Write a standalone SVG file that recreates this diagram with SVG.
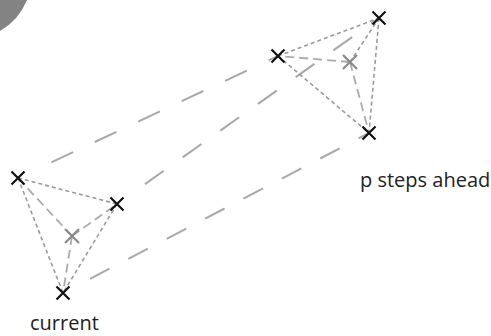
<svg xmlns="http://www.w3.org/2000/svg" width="491" height="336" viewBox="0 0 491 336">
<defs>
<style>
.long{stroke:#a8a8a8;stroke-width:2;fill:none}
.edge{stroke:#9a9a9a;stroke-width:1.6;stroke-dasharray:4 3;fill:none}
.spoke{stroke:#ababab;stroke-width:1.8;stroke-dasharray:9 5;fill:none}
.xb{stroke:#111;stroke-width:2.2;fill:none}
.xg{stroke:#8a8a8a;stroke-width:2.2;fill:none}
.lbl{font-family:"Open Sans","Liberation Sans",sans-serif;font-size:20px;fill:#222}
</style>
</defs>
<rect width="491" height="336" fill="#fff"/>
<path d="M0,0 H27 Q19,20 0,31 Z" fill="#838383"/>
<g id="connectors">
<path class="long" d="M51.3,162.4 L278,56" stroke-dasharray="24 24"/>
<path class="long" d="M145,184.1 L379,18" stroke-dasharray="23 23.2"/>
<path class="long" d="M90,278.9 L369,133" stroke-dasharray="22 21.3"/>
<g id="left-lines">
<path class="edge" d="M18,178 L117,204"/>
<path class="edge" d="M18,178 L63,293"/>
<path class="edge" d="M117,204 L63,293"/>
<path class="spoke" d="M72,236 L18,178"/>
<path class="spoke" d="M72,236 L117,204"/>
<path class="spoke" d="M72,236 L63,293"/>
</g>
<g id="right-lines">
<path class="edge" d="M278,56 L379,18"/>
<path class="edge" d="M278,56 L369,133"/>
<path class="edge" d="M379,18 L369,133"/>
<path class="spoke" d="M350,62 L278,56"/>
<path class="edge" d="M350,62 L379,18"/>
<path class="spoke" d="M350,62 L369,133"/>
</g>
</g>
<g id="current">
<path class="xb" d="M11.5,171.5 L24.5,184.5 M24.5,171.5 L11.5,184.5"/>
<path class="xb" d="M110.5,197.5 L123.5,210.5 M123.5,197.5 L110.5,210.5"/>
<path class="xb" d="M56.5,286.5 L69.5,299.5 M69.5,286.5 L56.5,299.5"/>
<path class="xg" d="M65,229 L79,243 M79,229 L65,243"/>
<text class="lbl" x="30" y="330">current</text>
</g>
<g id="ahead">
<path class="xb" d="M271.5,49.5 L284.5,62.5 M284.5,49.5 L271.5,62.5"/>
<path class="xb" d="M372.5,11.5 L385.5,24.5 M385.5,11.5 L372.5,24.5"/>
<path class="xb" d="M362.5,126.5 L375.5,139.5 M375.5,126.5 L362.5,139.5"/>
<path class="xg" d="M343,55 L357,69 M357,55 L343,69"/>
<text class="lbl" x="360" y="187">p steps ahead</text>
</g>
</svg>
